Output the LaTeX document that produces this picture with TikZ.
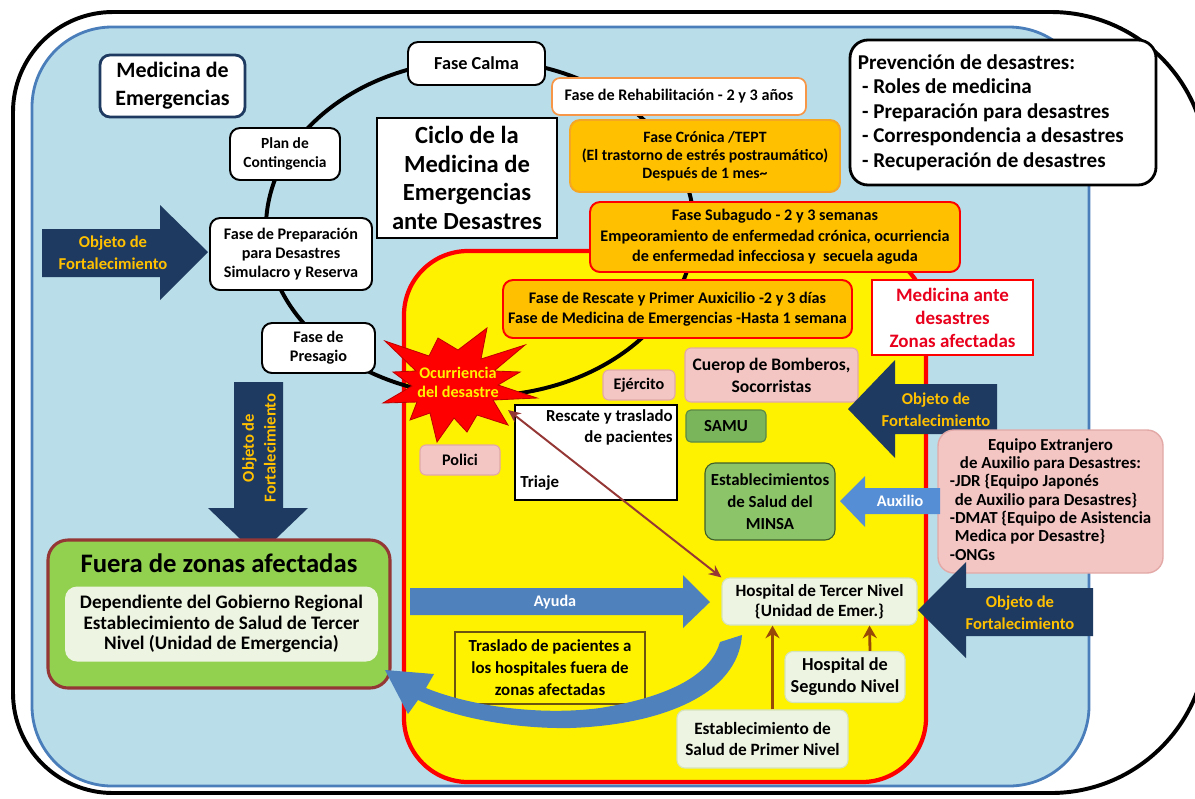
\documentclass[tikz,border=0pt]{standalone}
\usepackage{fontspec}
\setmainfont{Carlito}
\usetikzlibrary{calc,arrows.meta}

\definecolor{skyfill}{HTML}{B9DDE9}
\definecolor{skyline}{HTML}{4A7EBB}
\definecolor{navy}{HTML}{1F3A60}
\definecolor{gold}{HTML}{FFC000}
\definecolor{amber}{HTML}{FFC000}
\definecolor{amberline}{HTML}{F5A623}
\definecolor{peach}{HTML}{F79646}
\definecolor{pinkfill}{HTML}{F3C6C4}
\definecolor{pinkline}{HTML}{E2A9A7}
\definecolor{samugreen}{HTML}{7AB55C}
\definecolor{minsagreen}{HTML}{8CC46A}
\definecolor{darkgreen}{HTML}{3F5F2A}
\definecolor{palegreen}{HTML}{EEF4E2}
\definecolor{paleline}{HTML}{D5E3BC}
\definecolor{limefill}{HTML}{92D050}
\definecolor{maroon}{HTML}{953735}
\definecolor{steel}{HTML}{4F81BD}
\definecolor{auxblue}{HTML}{558ED5}
\definecolor{brownarrow}{HTML}{984807}
\definecolor{olivebrown}{HTML}{6B5410}
\definecolor{alertred}{HTML}{E8001C}

\newcommand{\fsz}[2]{\fontsize{#1}{#2}\selectfont\bfseries}

\tikzset{
  wh/.style 2 args={minimum width=#1*0.025cm, minimum height=#2*0.025cm, inner sep=0pt},
  wbox/.style={draw=black, fill=white, line width=1.4pt, rounded corners=0.25cm, align=center},
  phasebox/.style={fill=amber, draw=red, line width=1.4pt, rounded corners=0.25cm, align=center},
  pinkbox/.style={fill=pinkfill, draw=pinkline, line width=0.8pt, rounded corners=0.15cm, align=center},
  palebox/.style={fill=palegreen, draw=paleline, line width=0.8pt, rounded corners=0.2cm, align=center},
  arrowtxt/.style={text=gold, align=center, inner sep=0pt, font=\fsz{11.8pt}{15.6pt}},
  hospline/.style={brownarrow, line width=2pt, -{Stealth[length=9pt,width=10pt]}},
}

\begin{document}
\begin{tikzpicture}[x=0.025cm, y=-0.025cm]
\useasboundingbox (0,0) rectangle (1195,798);
\fill[white] (0,0) rectangle (1195,798);

% outer frame (its right side runs just past the page edge) and main panel
\draw[black, line width=2.8pt]
  (13,400) [rounded corners=2.5cm] -- (13,12) -- (700,12)
  [rounded corners=3.9cm] -- (1207,12) -- (1207,793) -- (700,793)
  [rounded corners=2.5cm] -- (13,793) -- cycle;
\draw[skyline, fill=skyfill, line width=2pt, rounded corners=2cm] (32,27) rectangle (1089,786);

% strengthening arrows on the left
\fill[navy] (42,229) -- (160,229) -- (160,205) -- (208,252) -- (160,300) -- (160,277) -- (42,277) -- cycle;
\node[arrowtxt] (objleft) at (113,253) {Objeto de\\Fortalecimiento};
\fill[navy] (234,382) -- (283,382) -- (283,508) -- (308,508) -- (258,556) -- (208,508) -- (234,508) -- cycle;
\node[arrowtxt, rotate=90] (objdown) at (259,448) {Objeto de\\Fortalecimiento};

% affected zone
\draw[red, fill=yellow, line width=3pt, rounded corners=1.6cm] (404,251) rectangle (926,782);

% cycle of emergency medicine
\draw[black, line width=2.8pt] (480,228) ellipse [x radius=5.35cm, y radius=4.2cm];

\node[wbox, wh={145}{62}, draw=navy, line width=2pt, font=\fsz{15.6pt}{19.9pt}] (medemerg) at (172.5,86) {Medicina de\\Emergencias};
\node[wbox, wh={137}{43}, font=\fsz{13pt}{15pt}] (calma) at (476.5,63.5) {Fase Calma};
\node[wbox, wh={254}{37}, draw=peach, line width=1.2pt, rounded corners=0.2cm, font=\fsz{11.5pt}{13pt}] (rehab) at (679,96.5) {Fase de Rehabilitación - 2 y 3 años};
\node[wbox, wh={110}{52}, font=\fsz{11pt}{13.5pt}] (plan) at (285,154) {Plan de\\Contingencia};
\node[draw=black, fill=white, line width=2pt, wh={180}{120}, align=center, font=\fsz{17.5pt}{20.5pt}] (ciclo) at (467,178) {Ciclo de la\\Medicina de\\Emergencias\\ante Desastres};
\node[phasebox, draw=amberline, wh={270}{72}, font=\fsz{11.2pt}{12.8pt}] (cronica) at (705,156) {Fase Crónica /TEPT\\(El trastorno de estrés postraumático)\\Después de 1 mes\textasciitilde};
\node[wbox, wh={306}{145}, line width=2pt, rounded corners=0.45cm] (prev) at (1003,112.5) {};
\node[anchor=west, align=left, inner sep=0pt, font=\fsz{15pt}{17.4pt}] (prevtxt) at ($(prev.west)+(9,0)$) {Prevención de desastres:\\\hspace*{0.2em}- Roles de medicina\\\hspace*{0.2em}- Preparación para desastres\\\hspace*{0.2em}- Correspondencia a desastres\\\hspace*{0.2em}- Recuperación de desastres};
\node[phasebox, wh={370}{70}, font=\fsz{11.5pt}{14.5pt}] (subagudo) at (775,237) {Fase Subagudo - 2 y 3 semanas\\Empeoramiento de enfermedad crónica, ocurriencia\\de enfermedad infecciosa y~ secuela aguda};
\node[wbox, wh={162}{72}, font=\fsz{11.5pt}{13.5pt}] (prep) at (291,254) {Fase de Preparación\\para Desastres\\Simulacro y Reserva};
\node[wbox, wh={113}{50}, font=\fsz{11.5pt}{13.5pt}] (presagio) at (318.5,348) {Fase de\\Presagio};
\node[phasebox, wh={349}{58}, font=\fsz{11.5pt}{14.5pt}] (rescate) at (677.5,309) {Fase de Rescate y Primer Auxicilio -2 y 3 días\\Fase de Medicina de Emergencias -Hasta 1 semana};
\node[draw=red, fill=white, line width=1.6pt, wh={161}{75}, align=center, text=alertred, font=\fsz{13.5pt}{16.3pt}] (medzonas) at (952.5,317.5) {Medicina ante\\desastres\\Zonas afectadas};

% disaster occurrence
\filldraw[fill=red, draw=red!75!black, line width=0.6pt]
  (525,345) -- (481,359) -- (487,328) -- (458,350) -- (438,338) -- (429,356)
  -- (385,341) -- (416,371) -- (393,372) -- (412,386) -- (383,403) -- (417,402)
  -- (410,420) -- (430,413) -- (437,442) -- (454,418) -- (467,432) -- (477,415)
  -- (508,425) -- (493,400) -- (537,398) -- (498,385) -- (520,372) -- (494,371) -- cycle;
\node[text=yellow, align=center, inner sep=0pt, font=\fsz{11.5pt}{13.5pt}] (burst) at (458,382) {Ocurriencia\\del desastre};
\coordinate (burstedge) at (508,410);

% actors in the affected zone
\node[pinkbox, wh={72}{30}, font=\fsz{11.5pt}{14pt}] (ejercito) at (639,385) {Ejército};
\node[pinkbox, wh={173}{54}, font=\fsz{12.5pt}{15.5pt}] (bomberos) at (771.5,375) {Cuerop de Bomberos,\\Socorristas};
\node[draw=black, fill=white, line width=1.4pt, wh={162}{95}] (triaje) at (596,452.5) {};
\node[anchor=north east, align=right, inner sep=0pt, font=\fsz{12pt}{15.5pt}] (rescatetxt) at ($(triaje.north east)+(-5,5)$) {Rescate y traslado\\de pacientes};
\node[anchor=base west, inner sep=0pt, font=\fsz{12pt}{15.5pt}] (triajetxt) at (520,487) {Triaje};
\node[fill=samugreen, draw=samugreen!75!black, line width=0.8pt, rounded corners=0.12cm, wh={80}{32}, font=\fsz{12pt}{14pt}] (samu) at (726,426) {SAMU};
\node[pinkbox, wh={80}{30}, font=\fsz{11.5pt}{14pt}] (polici) at (460,460) {Polici};
\node[fill=minsagreen, draw=darkgreen, line width=0.8pt, rounded corners=0.25cm, wh={130}{77}, align=center, font=\fsz{12pt}{15.6pt}] (minsa) at (770,501.5) {Establecimientos\\de Salud del\\MINSA};

% help from outside
\fill[navy] (997,384) -- (895,384) -- (895,360) -- (848,409) -- (895,458) -- (895,434) -- (997,434) -- cycle;
\node[arrowtxt] (objright) at (936,410) {Objeto de\\Fortalecimiento};
\node[fill=pinkfill, draw=pinkline, line width=1pt, rounded corners=0.4cm, wh={225}{143}, font=\fsz{12pt}{13pt}] (equipo) at (1050.5,501.5)
  {\begin{tabular}{@{}l@{}}
   \multicolumn{1}{@{}c@{}}{Equipo Extranjero}\\
   \multicolumn{1}{@{}c@{}}{de Auxilio para Desastres:}\\
   -JDR \{Equipo Japonés\\
   \hspace*{0.3em}de Auxilio para Desastres\}\\
   -DMAT \{Equipo de Asistencia\\
   \hspace*{0.3em}Medica por Desastre\}\\
   -ONGs
   \end{tabular}};
\fill[auxblue] (940,488) -- (865,488) -- (865,476) -- (840,501) -- (865,527) -- (865,514) -- (940,514) -- cycle;
\node[text=white, inner sep=0pt, font=\fsz{11.5pt}{14pt}] (auxilio) at (900,501) {Auxilio};
\fill[navy] (1093,588) -- (966,588) -- (966,562) -- (918,610) -- (966,658) -- (966,636) -- (1093,636) -- cycle;
\node[arrowtxt] (objlow) at (1020,613) {Objeto de\\Fortalecimiento};

% outside the affected zone
\node[fill=limefill, draw=maroon, line width=2.2pt, rounded corners=0.5cm, wh={342}{148}] (fuera) at (219,614) {};
\node[inner sep=0pt, font=\fsz{19pt}{21pt}] (fueratitle) at (219,563) {Fuera de zonas afectadas};
\node[fill=palegreen, rounded corners=0.3cm, wh={313}{75}, align=center, font=\fsz{13.6pt}{14.6pt}] (fuerainner) at (221.5,624) {Dependiente del Gobierno Regional\\Establecimiento de Salud de Tercer\\Nivel (Unidad de Emergencia)};

% hospitals
\node[palebox, wh={195}{47}, font=\fsz{12.2pt}{14.2pt}] (hospital3) at (819.5,601.5) {Hospital de Tercer Nivel\\\{Unidad de Emer.\}};
\node[palebox, wh={120}{51}, font=\fsz{13pt}{15.5pt}] (segundo) at (845,677) {Hospital de\\Segundo Nivel};
\node[palebox, wh={171}{58}, font=\fsz{12.3pt}{14.8pt}] (primer) at (762.5,739) {Establecimiento de\\Salud de Primer Nivel};
\node[fill=yellow, draw=olivebrown, line width=1.6pt, wh={190}{72}, align=center, font=\fsz{12pt}{15.6pt}] (traslado) at (550,668) {Traslado de pacientes a\\los hospitales fuera de\\zonas afectadas};

\fill[steel] (410,588) -- (683,588) -- (683,575) -- (710,602) -- (683,628) -- (683,615) -- (410,615) -- cycle;
\node[text=white, inner sep=0pt, font=\fsz{11.5pt}{14pt}] (ayuda) at (555,602) {Ayuda};

% patient transfer out of the zone
\fill[steel]
  (742,635) .. controls (738,695) and (660,725) .. (570,728)
  .. controls (510,729) and (450,716) .. (418,700)
  -- (408,714) -- (385,670) -- (434,674) -- (426,688)
  .. controls (470,706) and (540,716) .. (600,708)
  .. controls (680,695) and (712,670) .. (720,642) -- cycle;

% connectors
\draw[hospline] ($(primer.north)+(10,0)$) -- ($(hospital3.south)+(-47,0)$);
\draw[hospline] ($(segundo.north)+(25,0)$) -- ($(hospital3.south)+(50,0)$);
\draw[maroon, line width=1.4pt, {Stealth[length=9pt,width=8pt]}-{Stealth[length=9pt,width=8pt]}] (burstedge) -- (hospital3.north west);
\end{tikzpicture}
\end{document}
